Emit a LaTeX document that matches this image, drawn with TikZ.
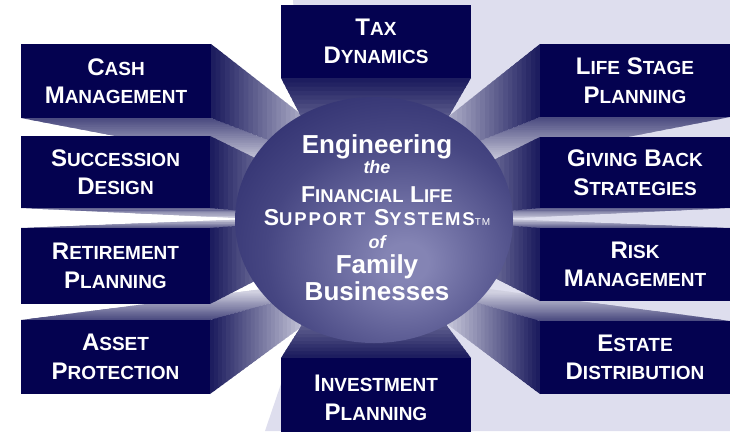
\documentclass[tikz,border=0pt]{standalone}
\usepackage{fontspec}
\setmainfont{Liberation Sans}
\newfontfamily\spacedfont{Liberation Sans}[LetterSpace=10]
\usetikzlibrary{calc,shapes.geometric}
\definecolor{boxnavy}{RGB}{4,2,80}
\definecolor{bglav}{RGB}{222,222,238}
\definecolor{beamdark}{RGB}{20,20,88}
\definecolor{beamlight}{RGB}{208,208,224}
\definecolor{hubin}{RGB}{132,132,180}
\definecolor{hubmid}{RGB}{70,70,130}
\definecolor{hubout}{RGB}{22,22,90}
\pgfdeclareradialshading{hubshade}{\pgfpoint{6bp}{-9bp}}{color(0bp)=(hubin); color(4bp)=(hubin); color(24bp)=(hubmid); color(50bp)=(hubout); color(100bp)=(hubout)}
\newcommand\capA[1]{{\fontsize{24}{28.5}\selectfont#1}}
\newcommand\capB[1]{{\fontsize{19}{28.5}\selectfont#1}}
\newcommand\hcA[1]{{\fontsize{23}{23}\selectfont#1}}
\newcommand\hcB[1]{{\fontsize{18.5}{23}\selectfont#1}}
\newcommand\hubline[1]{\hbox to 0pt{\hss#1\hss}}
% #1 = corner A, #2 = corner B, #3 = vanishing point, #4 = start percentage of light
\newcommand\beamface[4]{%
  \foreach \i in {0,...,39}{%
    \pgfmathsetmacro\ta{\i/40}%
    \pgfmathsetmacro\tb{(\i+1.5)/40}%
    \pgfmathtruncatemacro\pc{min(100,#4+(100-#4)*\ta/0.6)}%
    \fill[beamlight!\pc!beamdark] ($#1!\ta!#3$) -- ($#2!\ta!#3$) -- ($#2!\tb!#3$) -- ($#1!\tb!#3$) -- cycle;
  }}
\begin{document}
\begin{tikzpicture}[x=1pt,y=-1pt,
  tbox/.style={fill=boxnavy, text=white, inner sep=0pt, align=center,
    font=\bfseries\fontsize{24}{28.5}\selectfont}]
\useasboundingbox (0,0) rectangle (730,431);
\fill[white] (0,0) rectangle (730,431);
\fill[bglav] (293,0) -- (730,0) -- (730,431) -- (265,431) -- (301,325) -- (301,110) -- cycle;
% outer rows
\beamface{(21,118)}{(211,118)}{(398,190)}{30}
\beamface{(211,44)}{(211,118)}{(398,190)}{5}
\beamface{(21,320)}{(210,320)}{(372,275)}{30}
\beamface{(210,320)}{(210,394)}{(372,275)}{5}
\beamface{(730,117)}{(540,117)}{(356,190)}{30}
\beamface{(540,44)}{(540,117)}{(356,190)}{5}
\beamface{(730,321)}{(540,321)}{(382,275)}{30}
\beamface{(540,321)}{(540,394)}{(382,275)}{5}
% inner rows
\beamface{(21,208)}{(210,208)}{(392,225)}{30}
\beamface{(210,136)}{(210,208)}{(392,225)}{5}
\beamface{(21,228)}{(210,228)}{(385,214)}{30}
\beamface{(210,228)}{(210,304)}{(385,214)}{5}
\beamface{(730,208)}{(540,208)}{(362,225)}{30}
\beamface{(540,137)}{(540,208)}{(362,225)}{5}
\beamface{(730,228)}{(540,228)}{(369,214)}{30}
\beamface{(540,228)}{(540,301)}{(369,214)}{5}
% top and bottom
\beamface{(281,78)}{(471,78)}{(371,251)}{5}
\beamface{(281,358)}{(471,358)}{(368,220)}{5}
% hub
\node (hub) [ellipse, shade, shading=hubshade, minimum width=278pt, minimum height=246pt, inner sep=0pt] at (374,220) {};
\node (hubtext) [anchor=base, text=white, inner sep=0pt, font=\bfseries\fontsize{23}{23}\selectfont] at (377,153) {\vtop{\baselineskip=0pt \lineskip=0pt \lineskiplimit=-\maxdimen
\hubline{\fontsize{26}{26}\selectfont Engineering}\vskip20pt
\hubline{\fontsize{18}{18}\selectfont\itshape the}\vskip29pt
\hubline{\hcA{F}\hcB{INANCIAL} \hcA{L}\hcB{IFE}}\vskip23pt
\hubline{\spacedfont\hcA{S}\hcB{UPPORT} \hcA{S}\hcB{YSTEMS}{\fontsize{10}{10}\selectfont\mdseries TM}}\vskip23pt
\hubline{\fontsize{18}{18}\selectfont\itshape of}\vskip25pt
\hubline{\fontsize{26}{26}\selectfont Family}\vskip27pt
\hubline{\fontsize{26}{26}\selectfont Businesses}}};
% boxes
\node (cash) [tbox, minimum width=190pt, minimum height=74pt] at (116,81) {\capA{C}\capB{ASH}\\\capA{M}\capB{ANAGEMENT}};
\node (succ) [tbox, minimum width=189pt, minimum height=72pt] at (115.5,172) {\capA{S}\capB{UCCESSION}\\\capA{D}\capB{ESIGN}};
\node (retire) [tbox, minimum width=189pt, minimum height=76pt] at (115.5,266) {\capA{R}\capB{ETIREMENT}\\\capA{P}\capB{LANNING}};
\node (asset) [tbox, minimum width=189pt, minimum height=74pt] at (115.5,357) {\capA{A}\capB{SSET}\\\capA{P}\capB{ROTECTION}};
\node (tax) [tbox, minimum width=190pt, minimum height=73pt] at (376,41.5) {\capA{T}\capB{AX}\\\capA{D}\capB{YNAMICS}};
\node (invest) [tbox, minimum width=190pt, minimum height=80pt] at (376,398) {\capA{I}\capB{NVESTMENT}\\\capA{P}\capB{LANNING}};
\node (life) [tbox, minimum width=190pt, minimum height=73pt] at (635,80.5) {\capA{L}\capB{IFE} \capA{S}\capB{TAGE}\\\capA{P}\capB{LANNING}};
\node (giving) [tbox, minimum width=190pt, minimum height=71pt] at (635,172.5) {\capA{G}\capB{IVING} \capA{B}\capB{ACK}\\\capA{S}\capB{TRATEGIES}};
\node (risk) [tbox, minimum width=190pt, minimum height=73pt] at (635,264.5) {\capA{R}\capB{ISK}\\\capA{M}\capB{ANAGEMENT}};
\node (estate) [tbox, minimum width=190pt, minimum height=73pt] at (635,357.5) {\capA{E}\capB{STATE}\\\capA{D}\capB{ISTRIBUTION}};
\end{tikzpicture}
\end{document}
